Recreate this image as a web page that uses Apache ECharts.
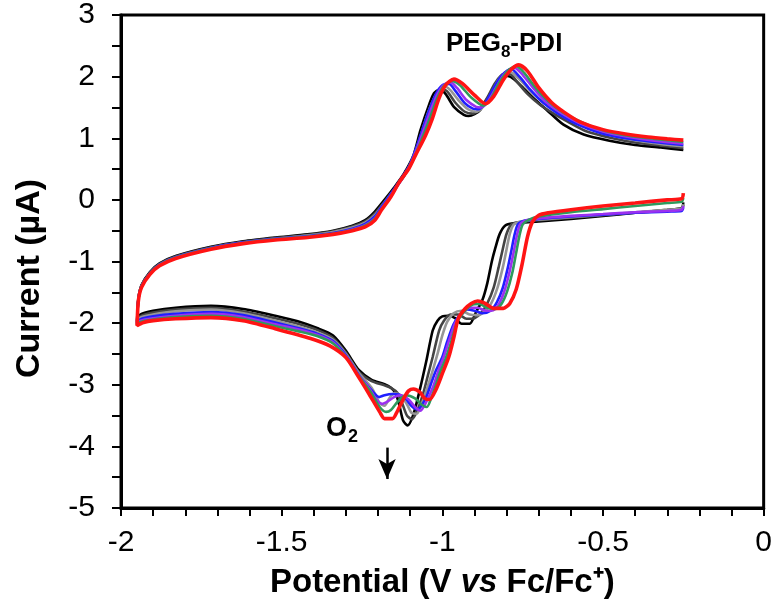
<!DOCTYPE html>
<html>
<head>
<meta charset="utf-8">
<script src="https://cdn.jsdelivr.net/npm/echarts@6/dist/echarts.min.js"></script>
<style>
html,body{margin:0;padding:0;background:#fff;}
#chart{width:775px;height:610px;}
</style>
</head>
<body>
<div id="chart"></div>
<script>
// ---- data: potential (V vs Fc/Fc+), current (uA); each scan = cathodic sweep then anodic sweep
const scanNames = ['Scan 1','Scan 2','Scan 3','Scan 4','Scan 5','Scan 6','Scan 7'];

const scan1 = [
[-0.25,-0.04],[-0.255,-0.13],[-0.30,-0.16],[-0.40,-0.21],[-0.50,-0.26],[-0.60,-0.31],[-0.70,-0.35],[-0.78,-0.38],
[-0.805,-0.42],[-0.822,-0.56],[-0.835,-0.78],[-0.846,-1.00],[-0.86,-1.35],[-0.875,-1.62],[-0.895,-1.82],[-0.915,-2.01],
[-0.94,-2.01],[-0.96,-1.92],[-0.98,-1.88],[-1.00,-1.89],[-1.015,-1.96],[-1.03,-2.12],[-1.05,-2.62],[-1.07,-3.08],
[-1.09,-3.48],[-1.108,-3.66],[-1.122,-3.58],[-1.133,-3.35],[-1.145,-3.14],[-1.16,-3.05],[-1.18,-2.99],[-1.22,-2.92],
[-1.26,-2.76],[-1.30,-2.45],[-1.34,-2.20],[-1.39,-2.08],[-1.45,-1.97],[-1.52,-1.88],[-1.62,-1.77],[-1.72,-1.72],
[-1.83,-1.75],[-1.90,-1.80],[-1.94,-1.86],[-1.95,-1.97],
[-1.946,-1.60],[-1.936,-1.38],[-1.91,-1.17],[-1.88,-1.03],[-1.83,-0.91],[-1.72,-0.76],[-1.62,-0.67],[-1.52,-0.61],
[-1.42,-0.56],[-1.34,-0.50],[-1.28,-0.42],[-1.24,-0.33],[-1.21,-0.19],[-1.18,0.00],[-1.15,0.20],[-1.12,0.42],
[-1.09,0.72],[-1.068,1.13],[-1.04,1.56],[-1.026,1.73],[-1.008,1.79],[-0.99,1.72],[-0.964,1.51],[-0.933,1.38],
[-0.918,1.36],[-0.90,1.39],[-0.882,1.46],[-0.85,1.73],[-0.82,1.94],[-0.797,2.01],[-0.775,1.95],[-0.747,1.81],
[-0.71,1.62],[-0.675,1.46],[-0.623,1.22],[-0.56,1.06],[-0.48,0.96],[-0.40,0.89],[-0.32,0.85],[-0.25,0.81]
];

const scan2 = [
[-0.25,-0.08],[-0.255,-0.15],[-0.30,-0.17],[-0.40,-0.21],[-0.50,-0.25],[-0.60,-0.29],[-0.70,-0.33],[-0.76,-0.36],
[-0.785,-0.40],[-0.80,-0.55],[-0.812,-0.80],[-0.825,-1.10],[-0.84,-1.42],[-0.86,-1.68],[-0.88,-1.84],[-0.90,-1.92],
[-0.925,-1.93],[-0.95,-1.86],[-0.975,-1.86],[-0.995,-1.96],[-1.01,-2.12],[-1.03,-2.55],[-1.045,-2.85],[-1.06,-3.15],
[-1.078,-3.42],[-1.095,-3.56],[-1.11,-3.50],[-1.125,-3.30],[-1.14,-3.13],[-1.16,-3.05],[-1.18,-3.01],[-1.22,-2.94],
[-1.26,-2.79],[-1.30,-2.48],[-1.34,-2.24],[-1.39,-2.11],[-1.45,-2.01],[-1.52,-1.92],[-1.62,-1.81],[-1.72,-1.75],
[-1.83,-1.78],[-1.90,-1.83],[-1.94,-1.89],[-1.95,-1.99],
[-1.946,-1.61],[-1.936,-1.39],[-1.91,-1.18],[-1.88,-1.04],[-1.83,-0.92],[-1.72,-0.77],[-1.62,-0.68],[-1.52,-0.62],
[-1.42,-0.57],[-1.34,-0.51],[-1.28,-0.43],[-1.24,-0.35],[-1.21,-0.22],[-1.18,-0.03],[-1.15,0.17],[-1.12,0.38],
[-1.095,0.62],[-1.07,0.98],[-1.045,1.40],[-1.025,1.65],[-1.003,1.80],[-0.985,1.76],[-0.96,1.58],[-0.93,1.43],
[-0.905,1.40],[-0.885,1.46],[-0.86,1.66],[-0.835,1.90],[-0.81,2.04],[-0.79,2.04],[-0.765,1.90],[-0.735,1.72],
[-0.70,1.56],[-0.66,1.42],[-0.61,1.27],[-0.55,1.11],[-0.47,1.00],[-0.40,0.93],[-0.32,0.88],[-0.25,0.84]
];

const scan3 = [
[-0.25,-0.07],[-0.255,-0.14],[-0.30,-0.16],[-0.40,-0.20],[-0.50,-0.24],[-0.60,-0.28],[-0.70,-0.32],[-0.755,-0.35],
[-0.778,-0.40],[-0.79,-0.55],[-0.80,-0.80],[-0.812,-1.10],[-0.828,-1.42],[-0.848,-1.68],[-0.87,-1.82],[-0.89,-1.87],
[-0.915,-1.86],[-0.94,-1.80],[-0.965,-1.84],[-0.985,-1.98],[-1.00,-2.20],[-1.015,-2.50],[-1.03,-2.77],[-1.045,-3.02],
[-1.062,-3.28],[-1.08,-3.47],[-1.095,-3.46],[-1.11,-3.32],[-1.13,-3.17],[-1.15,-3.14],[-1.165,-3.22],[-1.18,-3.34],
[-1.195,-3.30],[-1.22,-3.05],[-1.26,-2.81],[-1.30,-2.50],[-1.34,-2.27],[-1.39,-2.15],[-1.45,-2.05],[-1.52,-1.96],
[-1.62,-1.84],[-1.72,-1.78],[-1.83,-1.81],[-1.90,-1.86],[-1.94,-1.91],[-1.95,-2.00],
[-1.946,-1.62],[-1.936,-1.40],[-1.91,-1.19],[-1.88,-1.05],[-1.83,-0.93],[-1.72,-0.78],[-1.62,-0.69],[-1.52,-0.63],
[-1.42,-0.58],[-1.34,-0.52],[-1.28,-0.45],[-1.24,-0.37],[-1.21,-0.25],[-1.185,-0.08],[-1.155,0.13],[-1.125,0.35],
[-1.10,0.58],[-1.075,0.92],[-1.05,1.33],[-1.03,1.60],[-1.01,1.78],[-0.992,1.84],[-0.975,1.78],[-0.95,1.62],
[-0.92,1.47],[-0.895,1.43],[-0.875,1.50],[-0.85,1.70],[-0.825,1.95],[-0.80,2.08],[-0.782,2.06],[-0.755,1.93],
[-0.725,1.76],[-0.69,1.60],[-0.65,1.46],[-0.60,1.31],[-0.54,1.15],[-0.46,1.03],[-0.38,0.95],[-0.31,0.90],[-0.25,0.87]
];

const scan4 = [
[-0.25,-0.12],[-0.255,-0.18],[-0.30,-0.19],[-0.40,-0.21],[-0.50,-0.24],[-0.60,-0.27],[-0.70,-0.31],[-0.745,-0.34],
[-0.765,-0.40],[-0.775,-0.56],[-0.785,-0.82],[-0.797,-1.12],[-0.812,-1.43],[-0.83,-1.66],[-0.85,-1.80],[-0.875,-1.84],
[-0.90,-1.80],[-0.925,-1.78],[-0.945,-1.86],[-0.965,-2.02],[-0.985,-2.30],[-1.00,-2.55],[-1.02,-2.77],[-1.035,-2.98],
[-1.05,-3.20],[-1.065,-3.34],[-1.078,-3.40],[-1.095,-3.35],[-1.115,-3.22],[-1.135,-3.16],[-1.156,-3.15],[-1.18,-3.17],
[-1.197,-3.20],[-1.215,-3.12],[-1.24,-2.97],[-1.26,-2.84],[-1.30,-2.52],[-1.34,-2.29],[-1.39,-2.17],[-1.45,-2.08],
[-1.52,-1.99],[-1.62,-1.87],[-1.72,-1.82],[-1.83,-1.85],[-1.90,-1.89],[-1.94,-1.94],[-1.95,-2.01],
[-1.946,-1.62],[-1.936,-1.40],[-1.91,-1.19],[-1.88,-1.05],[-1.83,-0.93],[-1.72,-0.78],[-1.62,-0.69],[-1.52,-0.63],
[-1.42,-0.59],[-1.34,-0.54],[-1.28,-0.47],[-1.24,-0.39],[-1.21,-0.27],[-1.19,-0.12],[-1.16,0.10],[-1.13,0.33],
[-1.10,0.58],[-1.08,0.86],[-1.058,1.20],[-1.04,1.47],[-1.02,1.72],[-1.00,1.86],[-0.979,1.88],[-0.958,1.76],
[-0.93,1.57],[-0.905,1.48],[-0.888,1.47],[-0.868,1.56],[-0.843,1.79],[-0.818,2.00],[-0.798,2.10],[-0.785,2.12],
[-0.76,2.00],[-0.725,1.78],[-0.685,1.57],[-0.64,1.40],[-0.585,1.24],[-0.51,1.09],[-0.43,1.00],[-0.34,0.94],[-0.25,0.89]
];

const scan5 = [
[-0.25,-0.10],[-0.255,-0.16],[-0.30,-0.18],[-0.40,-0.20],[-0.50,-0.23],[-0.60,-0.26],[-0.70,-0.30],[-0.738,-0.33],
[-0.758,-0.40],[-0.768,-0.58],[-0.778,-0.85],[-0.79,-1.15],[-0.805,-1.45],[-0.822,-1.67],[-0.842,-1.79],[-0.865,-1.80],
[-0.89,-1.75],[-0.915,-1.75],[-0.94,-1.86],[-0.96,-2.00],[-0.98,-2.30],[-0.997,-2.57],[-1.012,-2.77],[-1.03,-3.05],
[-1.05,-3.28],[-1.068,-3.42],[-1.085,-3.36],[-1.105,-3.24],[-1.13,-3.17],[-1.15,-3.20],[-1.17,-3.27],[-1.187,-3.31],
[-1.205,-3.24],[-1.23,-3.04],[-1.26,-2.85],[-1.30,-2.54],[-1.34,-2.31],[-1.39,-2.19],[-1.45,-2.10],[-1.52,-2.02],
[-1.62,-1.90],[-1.72,-1.85],[-1.83,-1.88],[-1.90,-1.92],[-1.94,-1.96],[-1.95,-2.02],
[-1.946,-1.63],[-1.936,-1.41],[-1.91,-1.20],[-1.88,-1.06],[-1.83,-0.94],[-1.72,-0.79],[-1.62,-0.70],[-1.52,-0.64],
[-1.42,-0.60],[-1.34,-0.55],[-1.28,-0.48],[-1.24,-0.41],[-1.21,-0.30],[-1.19,-0.15],[-1.16,0.07],[-1.13,0.30],
[-1.10,0.56],[-1.08,0.82],[-1.055,1.18],[-1.035,1.47],[-1.015,1.72],[-0.995,1.87],[-0.975,1.91],[-0.955,1.82],
[-0.925,1.62],[-0.895,1.51],[-0.88,1.50],[-0.86,1.58],[-0.835,1.80],[-0.81,2.02],[-0.79,2.12],[-0.775,2.14],
[-0.75,2.03],[-0.715,1.80],[-0.675,1.58],[-0.63,1.41],[-0.575,1.25],[-0.50,1.11],[-0.42,1.02],[-0.34,0.96],[-0.25,0.91]
];

const scan6 = [
[-0.25,0.03],[-0.255,-0.03],[-0.30,-0.05],[-0.40,-0.10],[-0.50,-0.15],[-0.60,-0.20],[-0.70,-0.27],[-0.73,-0.32],
[-0.75,-0.40],[-0.76,-0.58],[-0.771,-0.88],[-0.783,-1.20],[-0.798,-1.48],[-0.815,-1.68],[-0.835,-1.77],[-0.86,-1.75],
[-0.885,-1.69],[-0.91,-1.71],[-0.935,-1.83],[-0.955,-2.00],[-0.975,-2.35],[-0.99,-2.58],[-1.005,-2.77],[-1.02,-3.00],
[-1.035,-3.22],[-1.048,-3.36],[-1.065,-3.32],[-1.085,-3.22],[-1.114,-3.17],[-1.14,-3.28],[-1.16,-3.41],[-1.175,-3.44],
[-1.195,-3.36],[-1.225,-3.10],[-1.26,-2.86],[-1.30,-2.55],[-1.34,-2.33],[-1.39,-2.21],[-1.45,-2.13],[-1.52,-2.05],
[-1.62,-1.93],[-1.72,-1.88],[-1.83,-1.90],[-1.90,-1.94],[-1.94,-1.98],[-1.95,-2.03],
[-1.946,-1.63],[-1.936,-1.41],[-1.91,-1.20],[-1.88,-1.06],[-1.83,-0.94],[-1.72,-0.79],[-1.62,-0.70],[-1.52,-0.64],
[-1.42,-0.60],[-1.34,-0.55],[-1.28,-0.49],[-1.24,-0.42],[-1.21,-0.31],[-1.19,-0.16],[-1.16,0.06],[-1.133,0.29],
[-1.102,0.53],[-1.08,0.78],[-1.055,1.10],[-1.035,1.38],[-1.015,1.66],[-0.995,1.85],[-0.97,1.93],[-0.945,1.86],
[-0.91,1.66],[-0.873,1.53],[-0.85,1.63],[-0.825,1.88],[-0.795,2.10],[-0.77,2.17],[-0.745,2.06],[-0.71,1.82],
[-0.67,1.60],[-0.625,1.42],[-0.57,1.27],[-0.50,1.13],[-0.42,1.04],[-0.34,0.99],[-0.25,0.94]
];

const scan7 = [
[-0.25,0.11],[-0.255,0.02],[-0.30,0.00],[-0.40,-0.05],[-0.50,-0.10],[-0.60,-0.16],[-0.67,-0.21],[-0.70,-0.25],
[-0.72,-0.36],[-0.735,-0.60],[-0.752,-1.05],[-0.77,-1.45],[-0.79,-1.68],[-0.81,-1.76],[-0.84,-1.76],[-0.87,-1.67],
[-0.89,-1.64],[-0.91,-1.68],[-0.93,-1.77],[-0.95,-1.92],[-0.965,-2.25],[-0.98,-2.55],[-1.00,-2.82],[-1.02,-3.08],
[-1.04,-3.24],[-1.055,-3.22],[-1.07,-3.12],[-1.09,-3.07],[-1.105,-3.10],[-1.12,-3.22],[-1.14,-3.43],[-1.155,-3.55],
[-1.18,-3.55],[-1.195,-3.44],[-1.228,-3.15],[-1.26,-2.88],[-1.30,-2.56],[-1.35,-2.37],[-1.41,-2.25],[-1.52,-2.09],
[-1.62,-1.96],[-1.72,-1.91],[-1.83,-1.93],[-1.90,-1.96],[-1.93,-1.99],[-1.95,-2.04],
[-1.946,-1.64],[-1.936,-1.42],[-1.91,-1.21],[-1.88,-1.07],[-1.83,-0.95],[-1.72,-0.80],[-1.62,-0.71],[-1.52,-0.65],
[-1.42,-0.61],[-1.34,-0.56],[-1.28,-0.50],[-1.24,-0.44],[-1.21,-0.33],[-1.19,-0.17],[-1.16,0.05],[-1.135,0.28],
[-1.104,0.51],[-1.083,0.73],[-1.052,1.05],[-1.031,1.32],[-1.011,1.64],[-0.99,1.86],[-0.964,1.96],[-0.938,1.89],
[-0.90,1.70],[-0.866,1.56],[-0.84,1.68],[-0.81,1.95],[-0.785,2.12],[-0.762,2.19],[-0.735,2.09],[-0.70,1.82],
[-0.66,1.58],[-0.62,1.42],[-0.57,1.26],[-0.50,1.14],[-0.43,1.07],[-0.36,1.02],[-0.30,0.99],[-0.25,0.97]
];

const xTickValues = [-2, -1.5, -1, -0.5, 0];
const yTickValues = [-5, -4, -3, -2, -1, 0, 1, 2, 3];
const arrowPotential = [-1.172, -1.172];
const arrowCurrent = [-4.02, -4.53];

// ---- styling
const scanData = [scan1, scan2, scan3, scan4, scan5, scan6, scan7];
const scanColors = ['#000000', '#444444', '#969696', '#1f1fff', '#9b30f0', '#2e9a5c', '#ff1414'];
const scanWidths = [2.6, 2.6, 2.6, 2.6, 2.6, 2.6, 3.6];
const FONT = '"Liberation Sans", Arial, sans-serif';

const chart = echarts.init(document.getElementById('chart'), null, {renderer: 'canvas'});

const series = scanData.map((d, i) => ({
  name: scanNames[i],
  type: 'line',
  data: d,
  showSymbol: false,
  smooth: 0.25,
  lineStyle: {color: scanColors[i], width: scanWidths[i]},
  itemStyle: {color: scanColors[i]},
  z: 2 + i,
  silent: true
}));

series.push({
  name: 'arrow',
  type: 'line',
  data: [],
  markLine: {
    silent: true,
    symbol: ['none', 'arrow'],
    symbolSize: [13, 20],
    label: {show: false},
    lineStyle: {color: '#000', width: 2.5, type: 'solid'},
    data: [[
      {coord: [arrowPotential[0], arrowCurrent[0]]},
      {coord: [arrowPotential[1], arrowCurrent[1]]}
    ]]
  }
});

const option = {
  animation: false,
  backgroundColor: '#fff',
  grid: {
    left: 121, top: 13, width: 645, height: 495,
    show: true, borderColor: '#000', borderWidth: 3, backgroundColor: 'transparent'
  },
  xAxis: {
    type: 'value',
    min: xTickValues[0], max: xTickValues[xTickValues.length - 1], interval: 0.5,
    axisLine: {show: true, onZero: false, lineStyle: {color: '#000', width: 3}},
    axisTick: {show: true, inside: false, length: 8, lineStyle: {color: '#000', width: 2}},
    minorTick: {show: true, splitNumber: 5, length: 8, lineStyle: {color: '#000', width: 2}},
    splitLine: {show: false},
    axisLabel: {
      color: '#000', fontSize: 30, fontFamily: FONT, margin: 20,
      formatter: v => String(Math.round(v * 2) / 2)
    },
    name: 'Potential (V {i|vs} Fc/Fc⁺)',
    nameLocation: 'middle',
    nameGap: 58,
    nameTextStyle: {
      color: '#000', fontSize: 33, fontWeight: 'bold', fontFamily: FONT,
      rich: {i: {fontSize: 33, fontWeight: 'bold', fontStyle: 'italic', fontFamily: FONT, color: '#000'}}
    }
  },
  yAxis: {
    type: 'value',
    min: yTickValues[0], max: yTickValues[yTickValues.length - 1], interval: 1,
    axisLine: {show: true, onZero: false, lineStyle: {color: '#000', width: 3}},
    axisTick: {show: true, inside: false, length: 9, lineStyle: {color: '#000', width: 2}},
    minorTick: {show: true, splitNumber: 2, length: 9, lineStyle: {color: '#000', width: 2}},
    splitLine: {show: false},
    axisLabel: {color: '#000', fontSize: 30, fontFamily: FONT, margin: 26},
    name: 'Current (µA)',
    nameLocation: 'middle',
    nameGap: 74,
    nameTextStyle: {color: '#000', fontSize: 34, fontWeight: 'bold', fontFamily: FONT, padding: [0, 34, 0, 0]}
  },
  graphic: [
    {
      type: 'text', left: 446, top: 31, z: 100,
      style: {
        text: '{a|PEG}{s|8}{a|-PDI}',
        fill: '#000',
        rich: {
          a: {fontSize: 26, fontWeight: 'bold', fontFamily: FONT, fill: '#000', lineHeight: 30, verticalAlign: 'top'},
          s: {fontSize: 17, fontWeight: 'bold', fontFamily: FONT, fill: '#000', lineHeight: 17, padding: [13, 0, 0, 0], verticalAlign: 'top'}
        }
      }
    },
    {
      type: 'text', left: 326, top: 415, z: 100,
      style: {
        text: '{a|O}{s|2}',
        fill: '#000',
        rich: {
          a: {fontSize: 27, fontWeight: 'bold', fontFamily: FONT, fill: '#000', lineHeight: 30, verticalAlign: 'top'},
          s: {fontSize: 18, fontWeight: 'bold', fontFamily: FONT, fill: '#000', lineHeight: 18, padding: [13, 0, 0, 1], verticalAlign: 'top'}
        }
      }
    }
  ],
  series: series
};

chart.setOption(option);
</script>
</body>
</html>
